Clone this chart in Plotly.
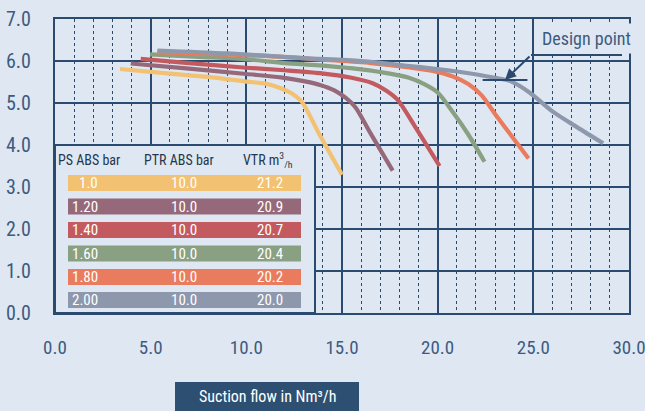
import plotly.graph_objects as go

# ---------------- data ----------------
ps_labels = ["1.0", "1.20", "1.40", "1.60", "1.80", "2.00"]
ptr_labels = ["10.0", "10.0", "10.0", "10.0", "10.0", "10.0"]
vtr_labels = ["21.2", "20.9", "20.7", "20.4", "20.2", "20.0"]

x_ps100 = [3.4, 6.0, 8.0, 10.0, 11.0, 11.8, 12.4, 12.9, 13.8, 15.0]
y_ps100 = [5.81, 5.70, 5.62, 5.51, 5.46, 5.35, 5.22, 5.03, 4.27, 3.29]

x_ps120 = [3.96, 7.0, 10.0, 11.8, 13.0, 13.85, 14.6, 15.2, 15.7, 16.5, 17.65]
y_ps120 = [5.94, 5.82, 5.69, 5.61, 5.52, 5.43, 5.30, 5.12, 4.90, 4.27, 3.39]

x_ps140 = [4.48, 7.0, 10.0, 12.0, 13.85, 15.5, 16.6, 17.3, 17.9, 18.8, 20.1]
y_ps140 = [6.05, 5.95, 5.84, 5.78, 5.71, 5.60, 5.47, 5.30, 5.08, 4.45, 3.50]

x_ps160 = [4.97, 7.5, 10.0, 12.0, 14.0, 16.0, 17.5, 18.5, 19.3, 20.0, 20.8, 21.6, 22.45]
y_ps160 = [6.16, 6.10, 6.04, 5.95, 5.89, 5.80, 5.70, 5.60, 5.45, 5.25, 4.78, 4.25, 3.60]

x_ps180 = [5.35, 8.0, 11.0, 14.0, 16.5, 18.5, 19.8, 20.8, 21.6, 22.3, 23.0, 24.75]
y_ps180 = [6.21, 6.17, 6.12, 6.03, 5.95, 5.85, 5.76, 5.63, 5.45, 5.18, 4.74, 3.68]

x_ps200 = [5.35, 9.0, 13.0, 16.0, 19.0, 21.0, 23.0, 23.8, 24.8, 26.0, 27.3, 28.65]
y_ps200 = [6.25, 6.18, 6.07, 6.00, 5.86, 5.75, 5.60, 5.52, 5.25, 4.80, 4.42, 4.04]

design_x = [23.52]
design_y = [5.55]

x_ticks = [0, 5, 10, 15, 20, 25, 30]
y_ticks = [0, 1, 2, 3, 4, 5, 6, 7]

# ---------------- styles ----------------
BG = "#dfe8f2"
NAVY = "#2b4a6f"
TICK = "#3d5b80"
colors = ["#f2c172", "#96697a", "#c35a5f", "#8aa083", "#e97c5e", "#8e98ad"]
FONT = "Roboto Condensed, Liberation Sans Narrow, Roboto, sans-serif"

W, H = 645, 411
L, R, T, B = 55, 629, 19, 313


def px(xp):
    return (xp - L) / (R - L)


def py(yp):
    return (B - yp) / (B - T)


series = [(x_ps100, y_ps100), (x_ps120, y_ps120), (x_ps140, y_ps140),
          (x_ps160, y_ps160), (x_ps180, y_ps180), (x_ps200, y_ps200)]

fig = go.Figure()
for (xs, ys), c, name in zip(series, colors, ps_labels):
    fig.add_trace(go.Scatter(x=xs, y=ys, mode="lines", name=name,
                             line=dict(color=c, width=4.2, shape="spline", smoothing=0.8),
                             showlegend=False, hoverinfo="skip"))

# design point marker
fig.add_trace(go.Scatter(x=design_x, y=design_y, mode="markers", showlegend=False,
                         marker=dict(symbol="line-ew", size=32,
                                     line=dict(color=NAVY, width=2)),
                         hoverinfo="skip"))

shapes = []
annotations = []

# legend table box
shapes.append(dict(type="rect", xref="paper", yref="paper", x0=px(55), x1=px(315),
                   y0=py(313), y1=py(145), fillcolor=BG, line=dict(color=NAVY, width=2),
                   layer="above"))

header_y = 160
annotations += [
    dict(text="PS ABS bar", x=px(89), y=py(header_y)),
    dict(text="PTR ABS bar", x=px(179), y=py(header_y)),
    dict(text="VTR m<sup>3</sup><sub>/h</sub>", x=px(268), y=py(header_y)),
]
for a in annotations:
    a.update(xref="paper", yref="paper", showarrow=False, xanchor="center",
             yanchor="middle", font=dict(family=FONT, size=14, color="#26374d"))

row_centers = [183, 206.5, 230, 253.5, 277, 300]
for i, yc in enumerate(row_centers):
    shapes.append(dict(type="rect", xref="paper", yref="paper", x0=px(68), x1=px(301),
                       y0=py(yc + 8), y1=py(yc - 8), fillcolor=colors[i],
                       line=dict(width=0), layer="above"))
    for txt, xp, anchor in [(ps_labels[i], 100, "right"), (ptr_labels[i], 184, "center"),
                            (vtr_labels[i], 270, "center")]:
        annotations.append(dict(text=txt, x=px(xp), y=py(yc), xref="paper", yref="paper",
                                showarrow=False, xanchor=anchor, yanchor="middle",
                                font=dict(family=FONT, size=15, color="white")))

# design point callout
ax_d = (531 - L) / (R - L) * 30
ay_d = (B - 55) / (B - T) * 7
annotations.append(dict(x=design_x[0], y=design_y[0], xref="x", yref="y",
                        ax=ax_d, ay=ay_d, axref="x", ayref="y", text="",
                        showarrow=True, arrowhead=2, arrowsize=1.1, arrowwidth=2,
                        arrowcolor=NAVY, standoff=0))
shapes.append(dict(type="line", xref="paper", yref="paper", x0=px(531), x1=px(622),
                   y0=py(55), y1=py(55), line=dict(color=NAVY, width=2), layer="above"))
annotations.append(dict(text="Design point", x=px(586), y=py(39), xref="paper", yref="paper",
                        showarrow=False, xanchor="center", yanchor="middle",
                        bgcolor=BG, borderpad=4,
                        font=dict(family=FONT, size=18, color=TICK)))

# x-axis title box
shapes.append(dict(type="rect", xref="paper", yref="paper", x0=px(175), x1=px(359),
                   y0=py(411), y1=py(382), fillcolor="#2d5072", line=dict(width=0)))
annotations.append(dict(text="Suction flow in Nm³/h", x=px(267), y=py(397),
                        xref="paper", yref="paper", showarrow=False,
                        xanchor="center", yanchor="middle",
                        font=dict(family=FONT, size=16, color="white")))

fig.update_layout(
    width=W, height=H,
    margin=dict(l=L, r=W - R, t=T, b=H - B, pad=0, autoexpand=False),
    paper_bgcolor=BG, plot_bgcolor=BG,
    shapes=shapes, annotations=annotations,
    xaxis=dict(range=[0, 30], tickvals=x_ticks, ticktext=[f"{v:.1f}" for v in x_ticks],
               showgrid=True, gridcolor=NAVY, gridwidth=2,
               minor=dict(dtick=1, showgrid=True, gridcolor=NAVY, gridwidth=1, griddash="dot"),
               showline=True, linecolor=NAVY, linewidth=2, mirror=True,
               zeroline=False, ticks="", ticklabelstandoff=16, ticklabeloverflow="allow",
               tickfont=dict(family=FONT, size=19, color=TICK)),
    yaxis=dict(range=[0, 7], tickvals=y_ticks, ticktext=[f"{v:.1f}" for v in y_ticks],
               showgrid=True, gridcolor=NAVY, gridwidth=2,
               showline=True, linecolor=NAVY, linewidth=2, mirror=True,
               zeroline=False, ticks="", ticklabelstandoff=18, ticklabeloverflow="allow",
               tickfont=dict(family=FONT, size=20, color=TICK)),
)

fig.write_html(
    "out.html",
    config={"displayModeBar": False},
    post_script=(
        "document.documentElement.style.margin='0';"
        "document.body.style.margin='0';document.body.style.padding='0';"
        "document.body.style.overflow='hidden';"
        f"document.body.style.background='{BG}';"
    ),
)
